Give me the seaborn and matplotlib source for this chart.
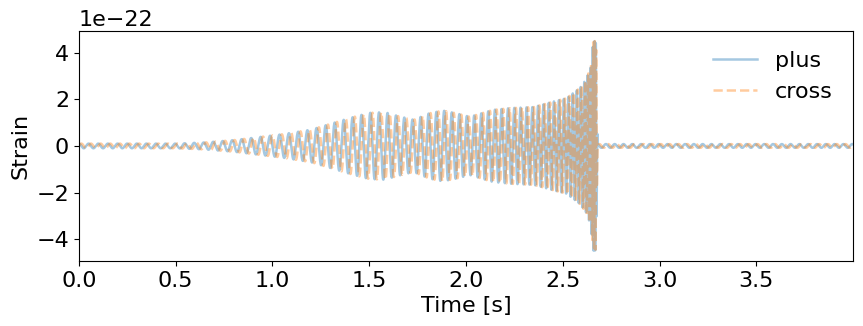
import numpy as np
import pandas as pd
import matplotlib
matplotlib.use('Agg')
import matplotlib.pyplot as plt
import seaborn as sns

plt.rcParams['font.size'] = 16

# envelope of the signal (units of 1e-22)
env_t = [0.0, 0.5, 0.65, 0.8, 0.95, 1.05, 1.2, 1.3, 1.4, 1.5, 1.58, 1.65, 1.73,
         1.81, 1.88, 1.95, 2.02, 2.14, 2.24, 2.35, 2.45, 2.52, 2.59, 2.62, 2.645,
         2.658, 2.668, 2.672, 2.68, 2.7, 4.0]
env_a = [0.1, 0.1, 0.15, 0.25, 0.4, 0.5, 0.7, 0.95, 1.2, 1.42, 1.45, 1.28, 1.12,
         1.4, 1.52, 1.4, 1.25, 1.55, 1.63, 1.67, 1.9, 2.05, 2.5, 2.85, 3.4,
         4.5, 4.5, 4.4, 0.08, 0.08, 0.08]

# oscillation frequency (Hz)
freq_t = [0.0, 1.0, 1.5, 2.0, 2.3, 2.5, 2.6, 2.645, 2.67, 2.685, 4.0]
freq_f = [20, 20.5, 22, 26, 32, 40, 52, 70, 150, 22, 22]

fs = 4096
t = np.arange(0, 4, 1 / fs)
amp = np.interp(t, env_t, env_a) * 1e-22
phase = 2 * np.pi * np.cumsum(np.interp(t, freq_t, freq_f)) / fs
hp = amp * np.cos(phase)
hc = amp * np.sin(phase)

df = pd.DataFrame({'time': t, 'plus': hp, 'cross': hc})

fig, ax = plt.subplots(figsize=(8.63, 3.26), dpi=100)
sns.lineplot(x='time', y='plus', data=df, ax=ax, color='tab:blue', alpha=0.4,
             lw=1.8, label='plus')
sns.lineplot(x='time', y='cross', data=df, ax=ax, color='tab:orange', alpha=0.4,
             lw=1.8, ls='--', label='cross')
ax.set_xlim(t[0], t[-1])
ax.set_xlabel('Time [s]')
ax.set_ylabel('Strain')
ax.legend(loc='upper right', frameon=False)
plt.subplots_adjust(left=0.0915, right=0.9884, top=0.906, bottom=0.199)
plt.savefig('out.png', dpi=100)
